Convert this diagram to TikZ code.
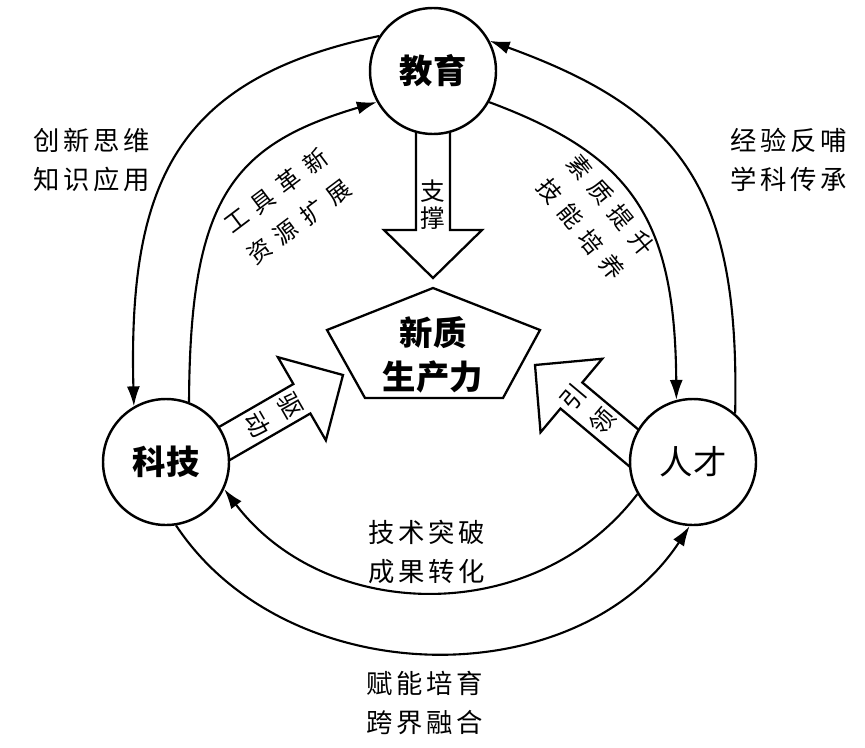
\documentclass[tikz,border=0pt]{standalone}
\usepackage{fontspec}
\newfontfamily\cjk{Noto Sans CJK SC}
\newfontfamily\cjkw[LetterSpace=14]{Noto Sans CJK SC}
\newfontfamily\cjkww[LetterSpace=38]{Noto Sans CJK SC}
\usetikzlibrary{arrows.meta}

\tikzset{
  hub/.style={circle, draw, fill=white, line width=1.4pt, minimum size=2.52cm, inner sep=0pt,
    font=\cjk\bfseries\fontsize{19}{19}\selectfont},
  flow/.style={line width=1.2pt, -{Latex[length=4mm,width=2.6mm]}},
  fat/.style={draw, fill=white, line width=1.3pt, line join=miter},
  tag/.style={align=center, inner sep=0pt, font=\cjkw\fontsize{15}{22.5}\selectfont},
  arctag/.style={align=center, inner sep=0pt, font=\cjkww\fontsize{13.5}{22}\selectfont},
  inarrow/.style={align=center, inner sep=0pt, font=\cjk\fontsize{14}{15.3}\selectfont},
}

\begin{document}
\begin{tikzpicture}
\useasboundingbox (0,0) rectangle (17.30,14.94);
\coordinate (J) at (8.66,13.52);
\coordinate (K) at (3.32,5.70);
\coordinate (R) at (13.86,5.70);
% tips of the three fat arrows
\coordinate (zc) at (8.66,9.38);
\coordinate (qd) at (6.86,7.44);
\coordinate (yl) at (10.70,7.64);

\begin{scope}[shift={(zc)}, rotate=-90]
\draw[fat] (0,0) -- (-0.96,0.98) -- (-0.96,0.34) -- (-3.5,0.34) -- (-3.5,-0.34) -- (-0.96,-0.34) -- (-0.96,-0.98) -- cycle;
\end{scope}
\node[inarrow] (zcT) at (8.66,10.84) {支\\撑};

\begin{scope}[shift={(qd)}, rotate=30]
\draw[fat] (0,0) -- (-0.95,0.96) -- (-0.95,0.34) -- (-3.4,0.34) -- (-3.4,-0.34) -- (-0.95,-0.34) -- (-0.95,-0.96) -- cycle;
\node[inarrow, rotate=-60, font=\cjk\fontsize{14}{21.6}\selectfont] (qdT) at (-1.60,0) {驱\\动};
\end{scope}

\begin{scope}[shift={(yl)}, rotate=140]
\draw[fat] (0,0) -- (-0.95,0.96) -- (-0.95,0.34) -- (-3.2,0.34) -- (-3.2,-0.34) -- (-0.95,-0.34) -- (-0.95,-0.96) -- cycle;
\node[inarrow, rotate=50, font=\cjk\fontsize{14}{21.6}\selectfont] (ylT) at (-1.37,0) {引\\领};
\end{scope}

% pentagon
\draw[fat] (8.66,9.18) -- (10.80,8.34) -- (10.06,6.98) -- (7.30,6.98) -- (6.54,8.34) -- cycle;
\node[align=center, font=\cjk\bfseries\fontsize{19}{25}\selectfont] (np) at (8.66,7.84) {新质\\生产力};

\node[hub] (jy) at (J) {教育};
\node[hub] (kj) at (K) {科技};
\node[hub, font=\cjk\fontsize{19}{19}\selectfont] (rc) at (R) {人才};

% outer ring
\draw[flow] (jy.147) .. controls (3.56,13.38) and (2.56,11.34) .. (kj.120);
\draw[flow] (kj.-81) .. controls (5.76,1.06) and (11.56,1.02) .. (rc.267);
\draw[flow] (rc.49) .. controls (14.80,11.14) and (13.66,12.72) .. (jy.28);
% inner ring
\draw[flow] (kj.69) .. controls (3.80,10.94) and (4.62,12.04) .. (jy.209);
\draw[flow] (jy.-29) .. controls (12.62,11.84) and (13.50,10.60) .. (rc.105);
\draw[flow] (rc.210) .. controls (10.70,2.38) and (6.52,2.48) .. (kj.-25);

\node[tag] (l1) at (1.84,11.74) {创新思维\\知识应用};
\node[tag] (l2) at (15.78,11.74) {经验反哺\\学科传承};
\node[tag] (l3) at (8.54,3.90) {技术突破\\成果转化};
\node[tag] (l4) at (8.50,0.88) {赋能培育\\跨界融合};
\node[arctag, rotate=37] (l5) at (5.75,10.81) {工具革新\\资源扩展};
\node[arctag, rotate=-51] (l6) at (11.92,10.60) {素质提升\\技能培养};
\end{tikzpicture}
\end{document}
